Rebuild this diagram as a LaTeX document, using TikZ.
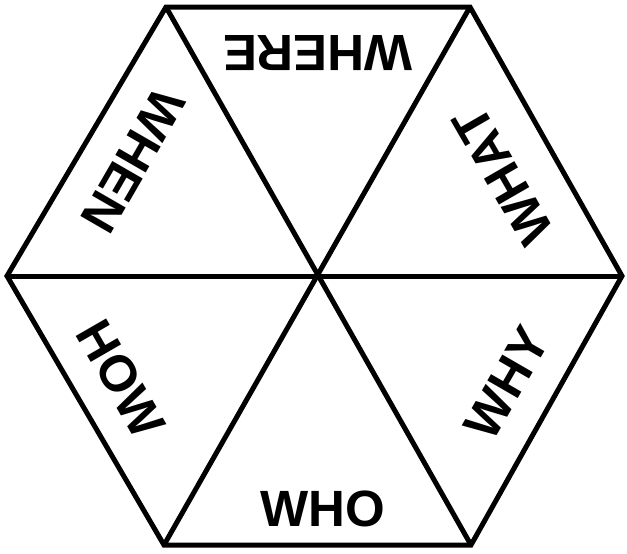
\documentclass[tikz,border=0pt]{standalone}
\usepackage{fontspec}
\setmainfont{Liberation Sans}
\usepackage{tikz}
\usetikzlibrary{positioning, calc}

\begin{document}
\begin{tikzpicture}[
    x=1pt, y=1pt,
    edge/.style={line width=5pt, line join=miter},
    word/.style={font=\fontsize{51}{51}\selectfont\bfseries, inner sep=0pt}
]
\useasboundingbox (0,0) rectangle (627,-554);
% corners of the hexagon
\coordinate (tl) at (166,-7);
\coordinate (tr) at (470,-7);
\coordinate (r) at (622,-276);
\coordinate (br) at (471,-545);
\coordinate (bl) at (164,-545);
\coordinate (l) at (7,-276);
\coordinate (c) at (319,-277);
\draw[edge] (tl) -- (tr) -- (r) -- (br) -- (bl) -- (l) -- cycle;
\draw[edge] (tl) -- (br);
\draw[edge] (tr) -- (bl);
\draw[edge] (l) -- (r);
% the six questions
\node[word, rotate=180] (where) at (318,-53) {WHERE};
\node[word, rotate=120] (what) at (503,-176) {WHAT};
\node[word, rotate=60] (why) at (507,-383) {WHY};
\node[word] (who) at (323,-509) {WHO};
\node[word, rotate=-60] (how) at (121,-379) {HOW};
\node[word, rotate=-120] (when) at (133,-161) {WHEN};
\end{tikzpicture}
\end{document}
